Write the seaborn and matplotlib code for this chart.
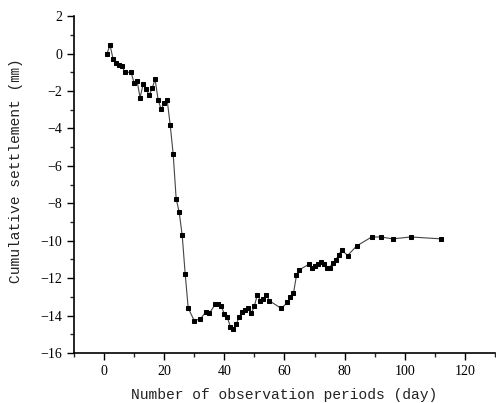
import numpy as np
import pandas as pd
import matplotlib
matplotlib.use("Agg")
import matplotlib.pyplot as plt
import seaborn as sns
from matplotlib.ticker import MultipleLocator

# observation day and cumulative settlement (mm)
days = [1, 2, 3, 4, 5, 6, 7, 9, 10, 11, 12, 13, 14, 15, 16, 17, 18, 19, 20, 21,
        22, 23, 24, 25, 26, 27, 28, 30, 32, 34, 35, 37, 38, 39, 40, 41, 42, 43,
        44, 45, 46, 47, 48, 49, 50, 51, 52, 53, 54, 55, 59, 61, 62, 63, 64, 65,
        68, 69, 70, 71, 72, 73, 74, 75, 76, 77, 78, 79, 81, 84, 89, 92, 96, 102, 112]
settlement = [0.0, 0.45, -0.27, -0.48, -0.59, -0.69, -1.0, -1.0, -1.56, -1.45,
              -2.36, -1.65, -1.88, -2.24, -1.86, -1.38, -2.47, -2.98, -2.66, -2.47,
              -3.8, -5.36, -7.76, -8.47, -9.71, -11.78, -13.6, -14.27, -14.18, -13.79,
              -13.88, -13.4, -13.4, -13.5, -13.91, -14.09, -14.59, -14.7, -14.45, -14.05,
              -13.79, -13.68, -13.58, -13.88, -13.48, -12.89, -13.2, -13.1, -12.88, -13.21,
              -13.62, -13.29, -13.02, -12.8, -11.85, -11.55, -11.27, -11.48, -11.35, -11.26,
              -11.16, -11.25, -11.47, -11.46, -11.17, -11.05, -10.77, -10.49, -10.79, -10.28,
              -9.8, -9.8, -9.9, -9.8, -9.9]

df = pd.DataFrame({"day": days, "settlement": settlement})

sns.set_style("ticks")
plt.rcParams["font.family"] = ["Liberation Serif", "DejaVu Serif"]

fig = plt.figure(figsize=(4.96, 4.03), dpi=100)
ax = fig.add_axes([0.149, 0.124, 0.849, 0.836])

sns.lineplot(data=df, x="day", y="settlement", ax=ax, color="#444444", linewidth=0.8,
             marker="s", markersize=3.4, markerfacecolor="black", markeredgecolor="black")

ax.set_xlim(-10, 130)
ax.set_ylim(-16, 2)
ax.xaxis.set_major_locator(MultipleLocator(20))
ax.xaxis.set_minor_locator(MultipleLocator(10))
ax.yaxis.set_major_locator(MultipleLocator(2))
ax.yaxis.set_minor_locator(MultipleLocator(1))
ax.tick_params(which="major", length=5, width=1, direction="out", labelsize=10, colors="black")
ax.tick_params(which="minor", length=3, width=1, direction="out")
for s in ["left", "bottom"]:
    ax.spines[s].set_linewidth(1.2)
    ax.spines[s].set_color("black")
sns.despine(ax=ax)

mono = ["Liberation Mono", "Noto Sans CJK SC", "DejaVu Sans Mono"]
ax.set_xlabel("Number of observation periods (day)", fontsize=10.5,
              family=mono, color="#222222", labelpad=7)
ax.set_ylabel("Cumulative settlement (㎜)", fontsize=10.5,
              family=mono, color="#222222", labelpad=11)
ax.yaxis.set_label_coords(-0.12, 0.54)

fig.savefig("out.png", dpi=100)
